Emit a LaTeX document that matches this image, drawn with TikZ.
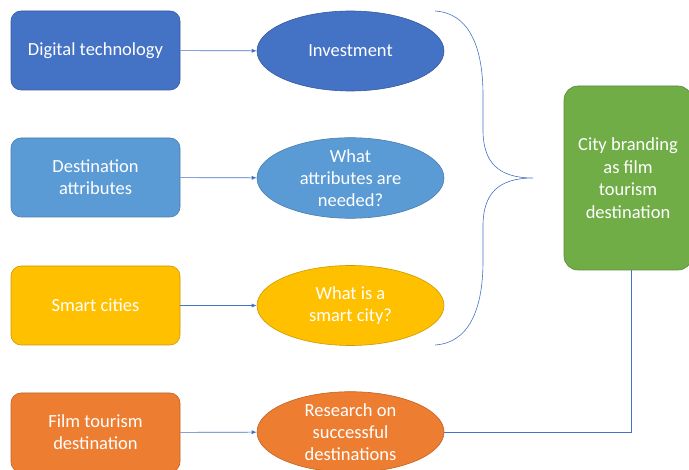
\documentclass[tikz,border=0pt]{standalone}
\usepackage{fontspec}
\setmainfont{Carlito}
\usetikzlibrary{shapes.geometric,arrows.meta}
\definecolor{cblue}{HTML}{4472C4}
\definecolor{clblue}{HTML}{5B9BD5}
\definecolor{cyellow}{HTML}{FFC000}
\definecolor{corange}{HTML}{ED7D31}
\definecolor{cgreen}{HTML}{70AD47}
\definecolor{lineblue}{HTML}{4472C4}
\tikzset{
  box/.style={rectangle, rounded corners=10pt, minimum width=169pt, minimum height=79pt,
    text=white, align=center, font=\fontsize{18.5}{22}\selectfont, draw=#1!80!black, fill=#1, line width=0.6pt, inner sep=0pt},
  oval/.style={ellipse, minimum width=187pt, minimum height=80pt, inner sep=0pt,
    text=white, align=center, font=\fontsize{18.5}{22}\selectfont, draw=#1!80!black, fill=#1, line width=0.6pt},
  conn/.style={draw=lineblue, line width=0.6pt},
  arr/.style={conn, -{Latex[length=5pt,width=4pt]}},
}
\begin{document}
\begin{tikzpicture}[x=1pt,y=-1pt]
\useasboundingbox (0,0) rectangle (689,470);
\begin{scope}
\clip (0,0) rectangle (689,470);
\node[box=cblue] (b1) at (95.5,50.5) {Digital technology};
\node[box=clblue] (b2) at (95.5,177.5) {Destination\\attributes};
\node[box=cyellow] (b3) at (95.5,305.5) {Smart cities};
\node[box=corange] (b4) at (95.5,432.5) {Film tourism\\destination};
\node[oval=cblue] (e1) at (350.5,51) {Investment};
\node[oval=clblue] (e2) at (350.5,178) {What\\attributes are\\needed?};
\node[oval=cyellow] (e3) at (350.5,305.5) {What is a\\smart city?};
\node[oval=corange, minimum height=78pt] (e4) at (350.5,432) {Research on\\successful\\destinations};
\node[rectangle, rounded corners=14pt, minimum width=128pt, minimum height=184pt, inner sep=0pt,
  fill=cgreen, draw=cgreen!80!black, line width=0.6pt, text=white, align=center,
  font=\fontsize{18.5}{22.5}\selectfont] (g) at (628,178) {City branding\\as film\\tourism\\destination};
\end{scope}
\draw[arr] (b1) -- (e1);
\draw[arr] (b2) -- (e2);
\draw[arr] (b3) -- (e3);
\draw[arr] (b4) -- (e4);
\coordinate (gb) at (631,270);
\draw[conn] (e4.east) -| (gb);
\coordinate (bt) at (435,11);
\coordinate (bm) at (533,178);
\coordinate (bb) at (435,345);
\draw[conn] (bt) .. controls (468,13) and (483,45) .. (483,95) -- (483,130)
  .. controls (483,162) and (498,178) .. (bm)
  .. controls (498,178) and (483,194) .. (483,226) -- (483,261)
  .. controls (483,311) and (468,343) .. (bb);
\end{tikzpicture}
\end{document}
